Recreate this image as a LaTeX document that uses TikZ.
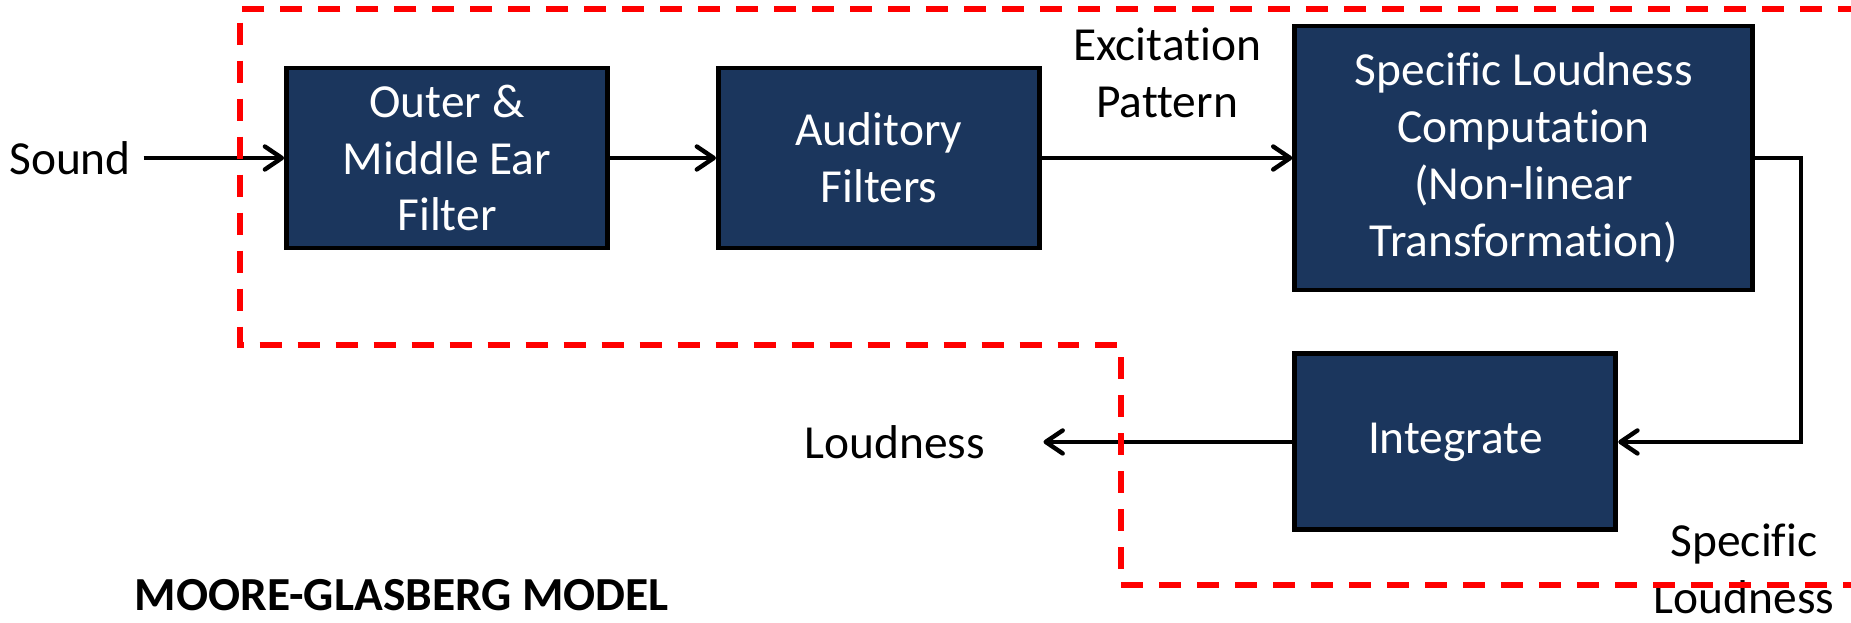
\documentclass[tikz,border=0pt]{standalone}
\usepackage{fontspec}
\setmainfont{Carlito}[Ligatures = NoCommon]
\usetikzlibrary{arrows.meta}
\definecolor{boxblue}{RGB}{27,54,93}
\tikzstyle{block} = [rectangle, minimum width = 6.42cm, minimum height = 3.6cm, align = center, draw = black, line width = 2.8pt, fill = boxblue, text = white]
\tikzstyle{textnode} = [align = center, inner sep = 0.25cm]
\tikzstyle{arrow} = [line width = 2.5pt, -{Straight Barb[length = 0.34cm, width = 0.46cm, round]}]
\tikzstyle{region} = [red, line width = 3pt, dash pattern = on 0.44cm off 0.32cm]

\begin{document}
\begin{tikzpicture}[node distance = 8.64cm, x = 0.02cm, y = 0.02cm, font = \fontsize{27}{32.4}\selectfont]
    \useasboundingbox (0,0) rectangle (1851,622);
    % blocks
    \node(outer)[block] at (447,464){Outer \&\\Middle Ear\\Filter};
    \node(audit)[block, right of = outer]{Auditory\\Filters};
    \node(spec)[block, right of = audit, xshift = 4.26cm, minimum width = 9.16cm, minimum height = 5.28cm]{Specific Loudness\\Computation\\(Non-linear\\Transformation)};
    \node(integ)[block, below of = spec, yshift = 2.96cm, xshift = -1.37cm, minimum height = 3.52cm]{Integrate};
    % inputs, outputs and titles
    \node(sound)[textnode, left of = outer, xshift = 1.1cm]{Sound};
    \node(loud)[textnode, left of = integ, xshift = -2.57cm]{Loudness};
    \node(specloud)[textnode] at (1744,53){Specific\\Loudness};
    \node(title)[textnode, font = \fontsize{27}{32.4}\selectfont\bfseries] at (402,27){MOORE-GLASBERG MODEL};

    \draw[arrow](sound)--(outer);
    \draw[arrow](outer)--(audit);
    \draw[arrow](audit)--node(excite)[textnode, above = 0.51cm]{Excitation\\Pattern}(spec);
    \draw[arrow](spec.east)--++(0.92cm,0)|-(integ.east);
    \draw[arrow, shorten >= 0.91cm](integ)--(loud);
    % dashed outline
    \draw[region](1860,613)-|(240,277)-|(1121,37)--(1860,37);
\end{tikzpicture}
\end{document}
